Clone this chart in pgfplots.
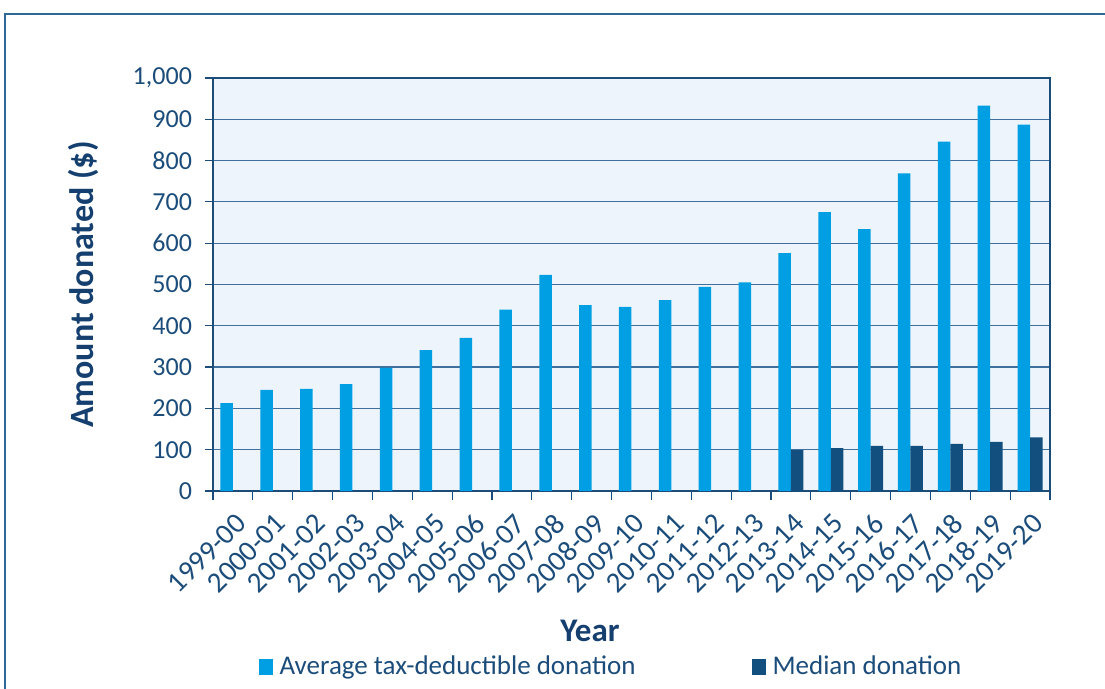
\documentclass[border=0pt]{standalone}
\usepackage{fontspec}
\setmainfont{Carlito}
\usepackage{pgfplots}
\pgfplotsset{compat=1.18}
\definecolor{avgc}{HTML}{009FE3}
\definecolor{medc}{HTML}{124E7E}
\definecolor{bgc}{HTML}{EDF4FB}
\definecolor{gridc}{HTML}{40709C}
\definecolor{txtc}{HTML}{1B4C7A}
\definecolor{labc}{HTML}{153F6F}
\definecolor{framec}{HTML}{2F6799}
\begin{document}
\begin{tikzpicture}
\useasboundingbox (0,0) rectangle (552.5pt,344.5pt);
\draw[framec, line width=0.6pt] (2.5pt,0) -- (2.5pt,337.5pt) -- (552.5pt,337.5pt);
\begin{axis}[
  at={(106.5pt,99pt)}, anchor=south west,
  scale only axis, width=418.5pt, height=206.5pt,
  xmin=-0.5, xmax=20.5, ymin=0, ymax=1000,
  axis background/.style={fill=bgc},
  axis line style={txtc, line width=0.6pt},
  ytick={0,100,...,1000},
  ymajorgrids, grid style={gridc, line width=0.6pt},
  xtick={0,...,20},
  xticklabels={1999-00,2000-01,2001-02,2002-03,2003-04,2004-05,2005-06,2006-07,2007-08,2008-09,2009-10,2010-11,2011-12,2012-13,2013-14,2014-15,2015-16,2016-17,2017-18,2018-19,2019-20},
  minor xtick={-0.5,0.5,...,20.5},
  every major x tick/.style={draw=none},
  every minor x tick/.style={txtc, line width=0.6pt},
  minor tick length=4.5pt,
  major tick length=4pt,
  tick align=outside,
  ytick style={txtc, line width=0.6pt},
  tick pos=left,
  /pgf/number format/assume math mode=true,
  /pgf/number format/1000 sep={,},
  yticklabel style={font=\fontsize{13}{15}\selectfont, text=txtc, xshift=-3pt},
  xticklabel style={font=\fontsize{14.5}{16}\selectfont, text=txtc, xshift=6.5pt, yshift=-7.5pt, rotate=45, anchor=east},
  ylabel={Amount donated (\$)},
  ylabel style={at={(axis description cs:-0.155,0.5)}, anchor=center, font=\bfseries\fontsize{17}{20}\selectfont, text=labc},
  xlabel={Year},
  xlabel style={at={(axis description cs:0.4504,-0.339)}, anchor=center, font=\bfseries\fontsize{16.5}{19}\selectfont, text=labc},
  legend style={at={(axis description cs:0.054,-0.426)}, anchor=west, draw=none, fill=none, inner sep=0pt,
    font=\fontsize{13.5}{15}\selectfont, text=txtc, legend columns=2,
    nodes={inner sep=0pt},
    /tikz/every odd column/.append style={column sep=3.5pt},
    /tikz/every even column/.append style={column sep=58pt}},
]
\addplot[ybar, bar width=6.25pt, bar shift=-3.125pt, fill=avgc, draw=none,
  legend image code/.code={\fill[avgc] (0pt,-4pt) rectangle (7pt,4pt);}]
  coordinates {(0,213) (1,245) (2,247) (3,259) (4,298) (5,341) (6,371) (7,439) (8,523) (9,450) (10,446) (11,462) (12,494) (13,505) (14,576) (15,675) (16,634) (17,769) (18,846) (19,933) (20,887)};
\addplot[ybar, bar width=6.25pt, bar shift=3.125pt, fill=medc, draw=none,
  legend image code/.code={\fill[medc] (0pt,-4pt) rectangle (7pt,4pt);}]
  coordinates {(14,99) (15,104) (16,109) (17,109) (18,114) (19,119) (20,130)};
\legend{Average tax-deductible donation, Median donation}
\end{axis}
\end{tikzpicture}
\end{document}
